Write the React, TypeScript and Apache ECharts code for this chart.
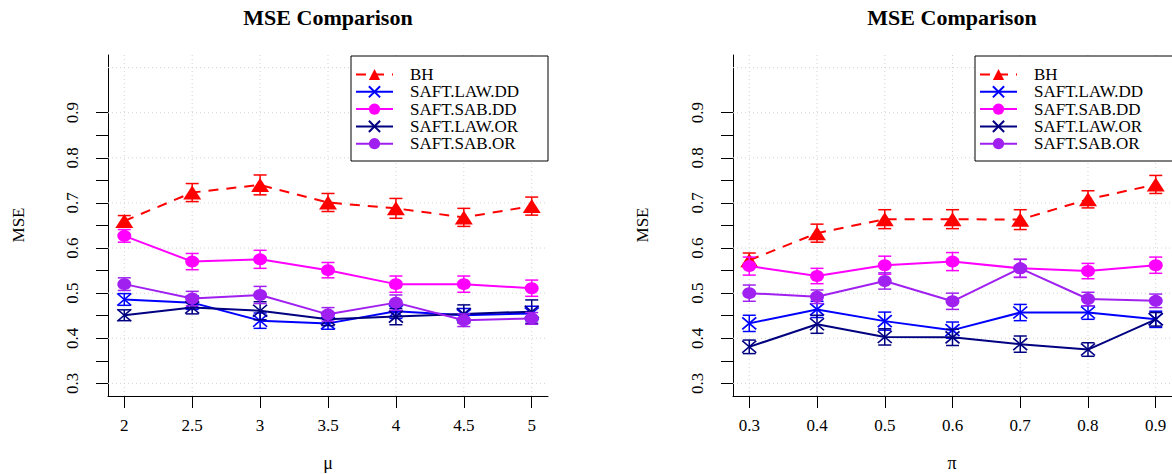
import React, { useEffect, useRef } from "react";
import * as echarts from "echarts";

const muVals = [2, 2.5, 3, 3.5, 4, 4.5, 5];
const piVals = [0.3, 0.4, 0.5, 0.6, 0.7, 0.8, 0.9];
const seriesNames = ["BH", "SAFT.LAW.DD", "SAFT.SAB.DD", "SAFT.LAW.OR", "SAFT.SAB.OR"];

// Left panel (mu)
const muBH = [0.66, 0.723, 0.74, 0.701, 0.688, 0.668, 0.693];
const muBHErr = [0.012, 0.02, 0.022, 0.02, 0.022, 0.02, 0.02];
const muLawDD = [0.486, 0.479, 0.439, 0.433, 0.46, 0.451, 0.455];
const muLawDDErr = [0.013, 0.015, 0.017, 0.013, 0.016, 0.015, 0.016];
const muSabDD = [0.627, 0.57, 0.575, 0.551, 0.52, 0.52, 0.511];
const muSabDDErr = [0.014, 0.018, 0.02, 0.017, 0.018, 0.018, 0.018];
const muLawOR = [0.451, 0.468, 0.461, 0.442, 0.448, 0.454, 0.459];
const muLawORErr = [0.012, 0.014, 0.02, 0.014, 0.018, 0.02, 0.026];
const muSabOR = [0.52, 0.488, 0.496, 0.453, 0.479, 0.44, 0.444];
const muSabORErr = [0.014, 0.016, 0.019, 0.015, 0.017, 0.014, 0.013];

// Right panel (pi)
const piBH = [0.573, 0.633, 0.664, 0.664, 0.663, 0.708, 0.741];
const piBHErr = [0.016, 0.02, 0.021, 0.021, 0.022, 0.019, 0.02];
const piLawDD = [0.433, 0.464, 0.438, 0.418, 0.457, 0.457, 0.442];
const piLawDDErr = [0.018, 0.018, 0.02, 0.018, 0.018, 0.015, 0.018];
const piSabDD = [0.56, 0.538, 0.562, 0.57, 0.555, 0.549, 0.562];
const piSabDDErr = [0.02, 0.017, 0.02, 0.02, 0.02, 0.017, 0.018];
const piLawOR = [0.381, 0.431, 0.403, 0.402, 0.387, 0.375, 0.442];
const piLawORErr = [0.015, 0.02, 0.018, 0.018, 0.018, 0.015, 0.015];
const piSabOR = [0.5, 0.492, 0.527, 0.482, 0.555, 0.487, 0.483];
const piSabORErr = [0.018, 0.015, 0.018, 0.018, 0.02, 0.015, 0.015];

const yTicks = [0.3, 0.35, 0.4, 0.45, 0.5, 0.55, 0.6, 0.65, 0.7, 0.75, 0.8, 0.85, 0.9];
const yLabels = [0.3, 0.4, 0.5, 0.6, 0.7, 0.8, 0.9];
const yGrid = [0.3, 0.4, 0.5, 0.6, 0.7, 0.8, 0.9, 1.0];

const FONT = "'Liberation Serif', 'Times New Roman', serif";
const colors = ["#FF0000", "#0000FF", "#FF00FF", "#000080", "#A020F0"];
const XSYM = "path://M0,0L10,10M10,0L0,10";
const symbols = ["triangle", XSYM, "circle", XSYM, "circle"];
const symSizes: any[] = [[18, 14], [14, 12], [14, 12], [14, 12], [14, 12]];

function buildPanel(idx: number, xs: number[], vals: number[][], errs: number[][]) {
  const series: any[] = [];
  series.push({
    type: "custom",
    name: "vgrid" + idx,
    xAxisIndex: idx,
    yAxisIndex: idx,
    silent: true,
    z: 1,
    data: xs.map((x) => [x, 0.5]),
    renderItem: (params: any, api: any) => {
      const cs = params.coordSys;
      const p = api.coord([api.value(0), api.value(1)]);
      return {
        type: "line",
        shape: { x1: p[0], y1: cs.y, x2: p[0], y2: cs.y + cs.height },
        style: { stroke: "#D3D3D3", lineWidth: 1, lineDash: [1, 3] },
      };
    },
  });
  series.push({
    type: "custom",
    name: "hgrid" + idx,
    xAxisIndex: idx,
    yAxisIndex: idx,
    silent: true,
    z: 1,
    data: yGrid.map((y) => [xs[0], y]),
    renderItem: (params: any, api: any) => {
      const cs = params.coordSys;
      const p = api.coord([api.value(0), api.value(1)]);
      return {
        type: "line",
        shape: { x1: cs.x, y1: p[1], x2: cs.x + cs.width, y2: p[1] },
        style: { stroke: "#D3D3D3", lineWidth: 1, lineDash: [1, 3] },
      };
    },
  });
  vals.forEach((v, k) => {
    const c = colors[k];
    series.push({
      type: "line",
      name: seriesNames[k],
      xAxisIndex: idx,
      yAxisIndex: idx,
      data: xs.map((x, i) => [x, v[i]]),
      symbol: symbols[k],
      symbolSize: symSizes[k],
      showSymbol: true,
      z: 3 + k,
      lineStyle: { color: c, width: 2, type: k === 0 ? [10, 8] : "solid" },
      itemStyle: { color: c, borderColor: c, borderWidth: k === 1 || k === 3 ? 1.6 : 0 },
    });
    series.push({
      type: "custom",
      name: seriesNames[k] + " err" + idx,
      xAxisIndex: idx,
      yAxisIndex: idx,
      silent: true,
      z: 3 + k,
      data: xs.map((x, i) => [x, v[i] - errs[k][i], v[i] + errs[k][i]]),
      encode: { x: 0, y: [1, 2] },
      renderItem: (params: any, api: any) => {
        const x = api.value(0);
        const p1 = api.coord([x, api.value(1)]);
        const p2 = api.coord([x, api.value(2)]);
        const w = 6.5;
        const st = { stroke: c, lineWidth: 1.5 };
        return {
          type: "group",
          children: [
            { type: "line", shape: { x1: p1[0], y1: p1[1], x2: p2[0], y2: p2[1] }, style: st },
            { type: "line", shape: { x1: p1[0] - w, y1: p1[1], x2: p1[0] + w, y2: p1[1] }, style: st },
            { type: "line", shape: { x1: p2[0] - w, y1: p2[1], x2: p2[0] + w, y2: p2[1] }, style: st },
          ],
        };
      },
    });
  });
  return series;
}

function xAxisOpt(idx: number, xs: number[], min: number, max: number) {
  return {
    type: "value",
    gridIndex: idx,
    min,
    max,
    axisLine: { show: true, onZero: false, lineStyle: { color: "#000", width: 1 } },
    axisTick: { show: true, inside: false, length: 12, customValues: xs, lineStyle: { color: "#000" } },
    axisLabel: {
      show: true,
      customValues: xs,
      margin: 21,
      fontSize: 17,
      fontFamily: FONT,
      color: "#000",
      formatter: (v: number) => String(Math.round(v * 100) / 100),
    },
    splitLine: { show: false },
  };
}

function yAxisOpt(idx: number) {
  return {
    type: "value",
    gridIndex: idx,
    min: 0.272,
    max: 1.028,
    axisLine: { show: true, onZero: false, lineStyle: { color: "#000", width: 1 } },
    axisTick: { show: true, inside: false, length: 12, customValues: yTicks, lineStyle: { color: "#000" } },
    axisLabel: {
      show: true,
      customValues: yLabels,
      rotate: 90,
      margin: 27,
      fontSize: 17,
      fontFamily: FONT,
      color: "#000",
      formatter: (v: number) => v.toFixed(1),
    },
    splitLine: { show: false },
  };
}

function legendOpt(left: number) {
  return {
    data: seriesNames,
    orient: "vertical",
    left: left + 4,
    top: 56 + 10,
    itemWidth: 37,
    itemHeight: 14,
    itemGap: 0.3,
    padding: 0,
    selectedMode: false,
    textStyle: { fontFamily: FONT, fontSize: 17, color: "#000", lineHeight: 14, padding: [0, 0, 0, 12] },
  };
}

export default function App() {
  const ref = useRef<HTMLDivElement>(null);
  useEffect(() => {
    if (!ref.current) return;
    const chart = echarts.init(ref.current, undefined, { renderer: "svg" });
    const option: any = {
      animation: false,
      backgroundColor: "#fff",
      grid: [
        { left: 108, top: 55, width: 440, height: 341 },
        { left: 733, top: 55, width: 440, height: 341 },
      ],
      xAxis: [xAxisOpt(0, muVals, 1.88, 5.12), xAxisOpt(1, piVals, 0.276, 0.924)],
      yAxis: [yAxisOpt(0), yAxisOpt(1)],
      legend: [legendOpt(351), legendOpt(975)],
      graphic: [
        { type: "rect", z: 3, zlevel: 0, shape: { x: 351, y: 56, width: 197, height: 105 }, style: { fill: "#fff", stroke: "#000", lineWidth: 1 } },
        { type: "rect", z: 3, zlevel: 0, shape: { x: 975, y: 56, width: 210, height: 105 }, style: { fill: "#fff", stroke: "#000", lineWidth: 1 } },
        { type: "text", x: 328, y: 17, style: { text: "MSE Comparison", textAlign: "center", textVerticalAlign: "middle", font: `bold 22px ${FONT}`, fill: "#000" } },
        { type: "text", x: 952, y: 17, style: { text: "MSE Comparison", textAlign: "center", textVerticalAlign: "middle", font: `bold 22px ${FONT}`, fill: "#000" } },
        { type: "text", x: 18, y: 225, rotation: Math.PI / 2, style: { text: "MSE", textAlign: "center", textVerticalAlign: "middle", font: `17px ${FONT}`, fill: "#000" } },
        { type: "text", x: 642, y: 225, rotation: Math.PI / 2, style: { text: "MSE", textAlign: "center", textVerticalAlign: "middle", font: `17px ${FONT}`, fill: "#000" } },
        { type: "text", x: 328, y: 463, style: { text: "μ", textAlign: "center", textVerticalAlign: "middle", font: `18px ${FONT}`, fill: "#000" } },
        { type: "text", x: 952, y: 463, style: { text: "π", textAlign: "center", textVerticalAlign: "middle", font: `18px ${FONT}`, fill: "#000" } },
      ],
      series: [
        ...buildPanel(0, muVals, [muBH, muLawDD, muSabDD, muLawOR, muSabOR], [muBHErr, muLawDDErr, muSabDDErr, muLawORErr, muSabORErr]),
        ...buildPanel(1, piVals, [piBH, piLawDD, piSabDD, piLawOR, piSabOR], [piBHErr, piLawDDErr, piSabDDErr, piLawORErr, piSabORErr]),
      ],
    };
    chart.setOption(option);
    return () => chart.dispose();
  }, []);
  return <div ref={ref} style={{ position: "fixed", left: 0, top: 0, width: 1172, height: 474 }} />;
}
